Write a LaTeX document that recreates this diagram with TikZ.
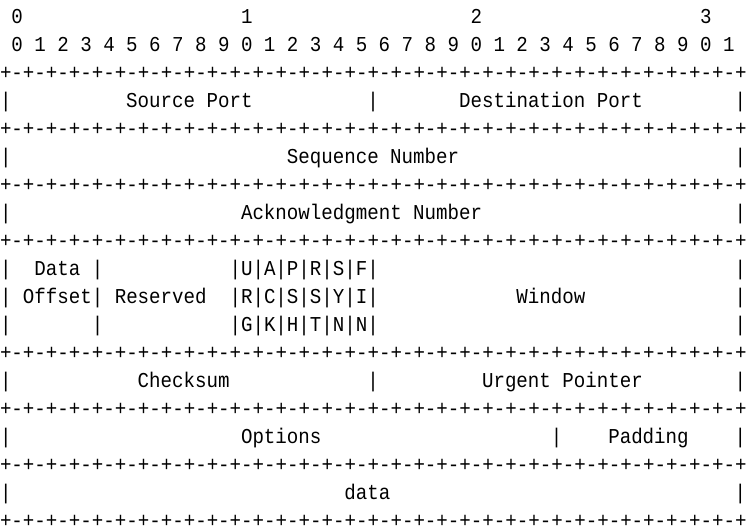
\documentclass[tikz,border=0pt]{standalone}
\usepackage{fontspec}
\newfontfamily\ascfont[FakeStretch=0.903]{Liberation Mono}
\tikzset{
  asc/.style={inner sep=0pt, outer sep=0pt, anchor=base west, text=black,
    font=\ascfont\fontsize{21.2pt}{28pt}\selectfont},
  rulerow/.style={asc, text depth=0pt}
}
\newcommand\T[4]{\node[asc] (#1) at ({#2*11.4769pt},{505pt-(#3-1)*28pt}) {#4};}
\newcommand\rulestr{+-+-+-+-+-+-+-+-+-+-+-+-+-+-+-+-+-+-+-+-+-+-+-+-+-+-+-+-+-+-+-+-+}
\begin{document}
\begin{tikzpicture}[x=1pt,y=1pt]
\fill[white] (0,0) rectangle (746,529);
\useasboundingbox (0,0) rectangle (746,529);
% ruler
\T{tens0}{1}{1}{0}
\T{tens1}{21}{1}{1}
\T{tens2}{41}{1}{2}
\T{tens3}{61}{1}{3}
\foreach \i in {0,...,31}{
  \pgfmathtruncatemacro\d{mod(\i,10)}
  \pgfmathtruncatemacro\c{2*\i+1}
  \node[asc] (bit\i) at ({\c*11.4769},{505-28}) {\d};
}
% separator rules
\foreach \r in {3,5,7,9,13,15,17,19}{
  \node[rulerow] (rule\r) at (0,{505-(\r-1)*28}) {\rulestr};
}
% row 4
\T{l4}{0}{4}{|}
\T{src1}{11}{4}{Source}
\T{src2}{18}{4}{Port}
\T{m4}{32}{4}{|}
\T{dst1}{40}{4}{Destination}
\T{dst2}{52}{4}{Port}
\T{r4}{64}{4}{|}
% row 6
\T{l6}{0}{6}{|}
\T{seq1}{25}{6}{Sequence}
\T{seq2}{34}{6}{Number}
\T{r6}{64}{6}{|}
% row 8
\T{l8}{0}{8}{|}
\T{ack1}{21}{8}{Acknowledgment}
\T{ack2}{36}{8}{Number}
\T{r8}{64}{8}{|}
% rows 10-12
\T{l10}{0}{10}{|}
\T{data}{3}{10}{Data}
\T{m10}{8}{10}{|}
\T{flags1}{20}{10}{|U|A|P|R|S|F|}
\T{r10}{64}{10}{|}
\T{l11}{0}{11}{|}
\T{offset}{2}{11}{Offset|}
\T{reserved}{10}{11}{Reserved}
\T{flags2}{20}{11}{|R|C|S|S|Y|I|}
\T{window}{45}{11}{Window}
\T{r11}{64}{11}{|}
\T{l12}{0}{12}{|}
\T{m12}{8}{12}{|}
\T{flags3}{20}{12}{|G|K|H|T|N|N|}
\T{r12}{64}{12}{|}
% row 14
\T{l14}{0}{14}{|}
\T{checksum}{12}{14}{Checksum}
\T{m14}{32}{14}{|}
\T{urg1}{42}{14}{Urgent}
\T{urg2}{49}{14}{Pointer}
\T{r14}{64}{14}{|}
% row 16
\T{l16}{0}{16}{|}
\T{options}{21}{16}{Options}
\T{m16}{48}{16}{|}
\T{padding}{53}{16}{Padding}
\T{r16}{64}{16}{|}
% row 18
\T{l18}{0}{18}{|}
\T{payload}{30}{18}{data}
\T{r18}{64}{18}{|}
\end{tikzpicture}
\end{document}
